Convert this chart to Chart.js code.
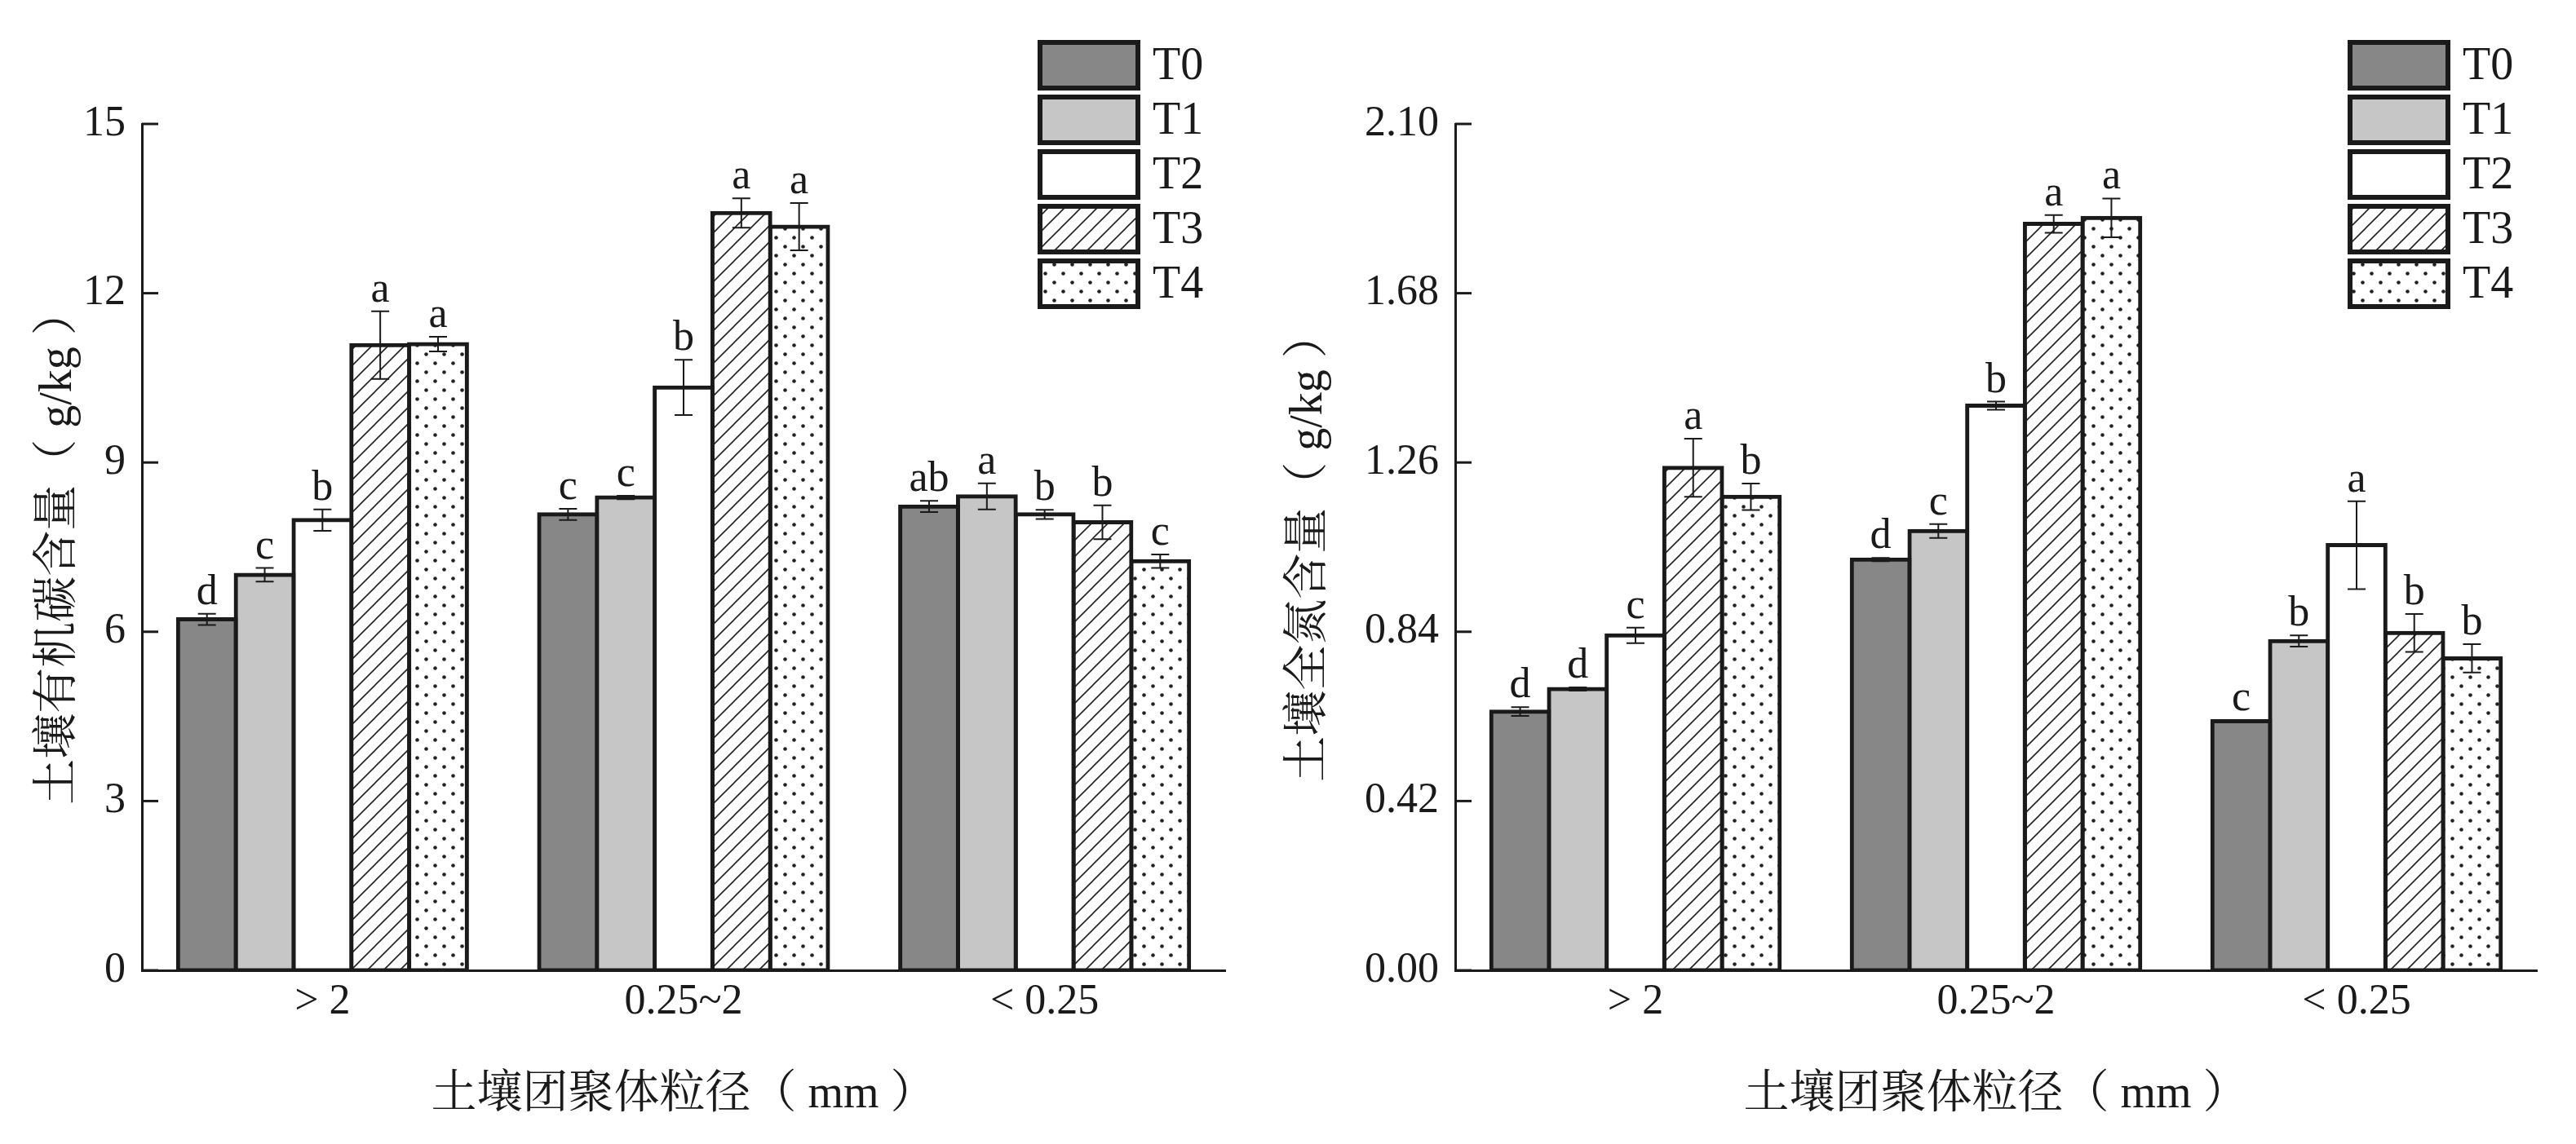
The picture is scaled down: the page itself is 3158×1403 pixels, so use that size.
<!DOCTYPE html>
<html>
<head>
<meta charset="utf-8">
<script src="https://cdn.jsdelivr.net/npm/chart.js@4.4.1/dist/chart.umd.min.js"></script>
<style>
  body { margin: 0; background: #fff; width: 3158px; height: 1403px; overflow: hidden; position: relative; }
  #chartSoc { position: absolute; left: 0; top: 0; }
  #chartTn { position: absolute; left: 1560px; top: 0; }
</style>
</head>
<body>
<canvas id="chartSoc" width="1560" height="1403"></canvas>
<canvas id="chartTn" width="1598" height="1403"></canvas>
<script>
// aggregate size classes
var sizeClasses = ['> 2', '0.25~2', '< 0.25'];
var treatments = ['T0', 'T1', 'T2', 'T3', 'T4'];

// soil organic carbon (g/kg)
var socT0 = [6.22, 8.08, 8.22];
var socT1 = [7.01, 8.38, 8.40];
var socT2 = [7.98, 10.33, 8.08];
var socT3 = [11.08, 13.42, 7.94];
var socT4 = [11.10, 13.18, 7.25];
var socErrT0 = [0.10, 0.10, 0.10];
var socErrT1 = [0.12, 0.03, 0.23];
var socErrT2 = [0.19, 0.49, 0.08];
var socErrT3 = [0.60, 0.26, 0.30];
var socErrT4 = [0.13, 0.42, 0.12];
var socSigT0 = ['d', 'c', 'ab'];
var socSigT1 = ['c', 'c', 'a'];
var socSigT2 = ['b', 'b', 'b'];
var socSigT3 = ['a', 'a', 'b'];
var socSigT4 = ['a', 'a', 'c'];

// soil total nitrogen (g/kg)
var tnT0 = [0.642, 1.019, 0.618];
var tnT1 = [0.698, 1.090, 0.817];
var tnT2 = [0.831, 1.401, 1.055];
var tnT3 = [1.247, 1.852, 0.837];
var tnT4 = [1.175, 1.867, 0.774];
var tnErrT0 = [0.011, 0.004, 0.003];
var tnErrT1 = [0.004, 0.017, 0.014];
var tnErrT2 = [0.019, 0.010, 0.109];
var tnErrT3 = [0.072, 0.022, 0.047];
var tnErrT4 = [0.033, 0.048, 0.035];
var tnSigT0 = ['d', 'd', 'c'];
var tnSigT1 = ['d', 'c', 'b'];
var tnSigT2 = ['c', 'b', 'a'];
var tnSigT3 = ['a', 'a', 'b'];
var tnSigT4 = ['b', 'a', 'b'];

var ink = '#1a1a1a';
var serif = '"Liberation Serif", "Noto Serif CJK SC", serif';

function hatchPattern() {
    var c = document.createElement('canvas');
    c.width = 20; c.height = 20;
    var g = c.getContext('2d');
    g.fillStyle = '#fff';
    g.fillRect(0, 0, 20, 20);
    g.strokeStyle = '#222';
    g.lineWidth = 1.6;
    g.beginPath();
    g.moveTo(0, 20); g.lineTo(20, 0);
    g.moveTo(-5, 5); g.lineTo(5, -5);
    g.moveTo(15, 25); g.lineTo(25, 15);
    g.stroke();
    return g.createPattern(c, 'repeat');
}

function dotPattern() {
    var c = document.createElement('canvas');
    c.width = 22; c.height = 22;
    var g = c.getContext('2d');
    g.fillStyle = '#fff';
    g.fillRect(0, 0, 22, 22);
    g.fillStyle = '#222';
    [[5.5, 5.5], [16.5, 16.5]].forEach(function (p) {
        g.beginPath();
        g.arc(p[0], p[1], 2.3, 0, Math.PI * 2);
        g.fill();
    });
    return g.createPattern(c, 'repeat');
}

var fills = ['#878787', '#c6c6c6', '#ffffff', hatchPattern(), dotPattern()];

// inward y ticks, error bars, letters and the boxed legend
var extras = {
    id: 'extras',
    afterDatasetsDraw: function (chart, args, opts) {
        var ctx = chart.ctx, y = chart.scales.y, area = chart.chartArea;
        ctx.save();
        ctx.strokeStyle = ink;
        ctx.lineWidth = 3;
        y.ticks.forEach(function (t) {
            var py = y.getPixelForValue(t.value);
            ctx.beginPath();
            ctx.moveTo(area.left, py);
            ctx.lineTo(area.left + 20, py);
            ctx.stroke();
        });

        ctx.font = '52px ' + serif;
        ctx.fillStyle = ink;
        ctx.textAlign = 'center';
        ctx.textBaseline = 'alphabetic';
        chart.data.datasets.forEach(function (ds, i) {
            chart.getDatasetMeta(i).data.forEach(function (bar, j) {
                var v = ds.data[j], e = ds.errors[j];
                var top = y.getPixelForValue(v + e);
                var bot = y.getPixelForValue(v - e);
                ctx.lineWidth = 2;
                ctx.beginPath();
                ctx.moveTo(bar.x, top); ctx.lineTo(bar.x, bot);
                ctx.moveTo(bar.x - 11, top); ctx.lineTo(bar.x + 11, top);
                ctx.moveTo(bar.x - 11, bot); ctx.lineTo(bar.x + 11, bot);
                ctx.stroke();
                ctx.fillText(ds.letters[j], bar.x, top - 12);
            });
        });

        ctx.font = '56px ' + serif;
        ctx.textAlign = 'left';
        ctx.textBaseline = 'middle';
        chart.data.datasets.forEach(function (ds, i) {
            var bx = opts.legendX, by = 52 + i * 67;
            ctx.fillStyle = ds.backgroundColor;
            ctx.fillRect(bx, by, 120, 56);
            ctx.lineWidth = 6;
            ctx.strokeStyle = ink;
            ctx.strokeRect(bx, by, 120, 56);
            ctx.fillStyle = ink;
            ctx.fillText(ds.label, bx + 138, by + 30);
        });
        ctx.restore();
    }
};

function makeDatasets(values, errors, letters) {
    return treatments.map(function (name, i) {
        return {
            label: name,
            data: values[i],
            errors: errors[i],
            letters: letters[i],
            backgroundColor: fills[i],
            borderColor: ink,
            borderWidth: 5,
            borderSkipped: false,
            inflateAmount: 2.5,
            categoryPercentage: 0.8,
            barPercentage: 1.0
        };
    });
}

function makeChart(canvas, datasets, yMax, yStep, yTitle, yFormat, axisWidth, titlePad, rightPad, legendX) {
    return new Chart(canvas, {
        type: 'bar',
        data: { labels: sizeClasses, datasets: datasets },
        options: {
            responsive: false,
            animation: false,
            devicePixelRatio: 1,
            layout: { padding: { top: 152, right: rightPad, bottom: 0, left: 0 } },
            plugins: {
                legend: { display: false },
                tooltip: { enabled: false },
                extras: { legendX: legendX }
            },
            scales: {
                x: {
                    grid: { display: false, drawTicks: false },
                    border: { display: true, color: ink, width: 3 },
                    ticks: { color: ink, font: { family: serif, size: 52 }, padding: 8, maxRotation: 0 },
                    title: {
                        display: true,
                        text: '土壤团聚体粒径（ mm ）',
                        color: ink,
                        font: { family: serif, size: 56 },
                        padding: { top: 0, bottom: 26 }
                    },
                    afterFit: function (scale) { scale.height = 213; }
                },
                y: {
                    min: 0,
                    max: yMax,
                    grid: { display: false, drawTicks: false },
                    border: { display: true, color: ink, width: 3 },
                    ticks: {
                        stepSize: yStep,
                        color: ink,
                        padding: 20,
                        font: { family: serif, size: 52 },
                        callback: yFormat
                    },
                    title: {
                        display: true,
                        text: yTitle,
                        color: ink,
                        font: { family: serif, size: 56 },
                        padding: { top: titlePad, bottom: 0 }
                    },
                    afterFit: function (scale) { scale.width = axisWidth; }
                }
            }
        },
        plugins: [extras]
    });
}

makeChart(
    document.getElementById('chartSoc'),
    makeDatasets([socT0, socT1, socT2, socT3, socT4],
                 [socErrT0, socErrT1, socErrT2, socErrT3, socErrT4],
                 [socSigT0, socSigT1, socSigT2, socSigT3, socSigT4]),
    15, 3, '土壤有机碳含量（ g/kg ）',
    function (v) { return v; },
    174, 39, 58, 1275
);

makeChart(
    document.getElementById('chartTn'),
    makeDatasets([tnT0, tnT1, tnT2, tnT3, tnT4],
                 [tnErrT0, tnErrT1, tnErrT2, tnErrT3, tnErrT4],
                 [tnSigT0, tnSigT1, tnSigT2, tnSigT3, tnSigT4]),
    2.1, 0.42, '土壤全氮含量（ g/kg ）',
    function (v) { return Number(v).toFixed(2); },
    224, 12, 48, 1321
);
</script>
</body>
</html>
